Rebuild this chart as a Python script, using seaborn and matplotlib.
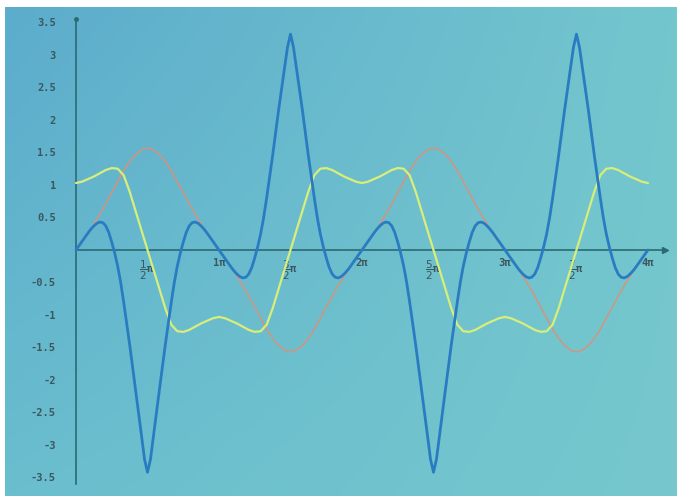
import numpy as np
import pandas as pd
import matplotlib
matplotlib.use("Agg")
import matplotlib.pyplot as plt
import seaborn as sns

# ---- data; x in units of pi ----
# blue curve, one period (0..2pi) sampled every pi/48
blue_period = [0, 0.065, 0.13, 0.195, 0.26, 0.32, 0.37, 0.41, 0.43, 0.42, 0.37, 0.27, 0.12, -0.05,
               -0.25, -0.50, -0.80, -1.12, -1.45, -1.80, -2.15, -2.50, -2.86, -3.22, -3.42,
               -3.22, -2.86, -2.50, -2.15, -1.80, -1.45, -1.12, -0.80, -0.50, -0.25, -0.05, 0.12,
               0.27, 0.37, 0.42, 0.43, 0.41, 0.37, 0.32, 0.26, 0.195, 0.13, 0.065, 0,
               -0.065, -0.13, -0.195, -0.26, -0.32, -0.37, -0.41, -0.43, -0.42, -0.37, -0.27, -0.12,
               0.05, 0.25, 0.50, 0.80, 1.12, 1.45, 1.80, 2.15, 2.48, 2.80, 3.12, 3.32,
               3.12, 2.80, 2.48, 2.15, 1.80, 1.45, 1.12, 0.80, 0.50, 0.25, 0.05, -0.12,
               -0.27, -0.37, -0.42, -0.43, -0.41, -0.37, -0.32, -0.26, -0.195, -0.13, -0.065, 0]
# yellow and orange curves, one period (0..2pi) sampled every pi/24
yellow_period = [1.03, 1.05, 1.09, 1.13, 1.18, 1.23, 1.26, 1.25, 1.15, 0.90, 0.60, 0.30, 0.0,
                 -0.30, -0.60, -0.90, -1.15, -1.25, -1.26, -1.23, -1.18, -1.13, -1.09, -1.05, -1.03,
                 -1.05, -1.09, -1.13, -1.18, -1.23, -1.26, -1.25, -1.15, -0.90, -0.60, -0.30, 0.0,
                 0.30, 0.60, 0.90, 1.15, 1.25, 1.26, 1.23, 1.18, 1.13, 1.09, 1.05, 1.03]
orange_period = [0, 0.12, 0.25, 0.40, 0.55, 0.71, 0.88, 1.05, 1.22, 1.36, 1.47, 1.54, 1.57,
                 1.54, 1.47, 1.36, 1.22, 1.05, 0.88, 0.71, 0.55, 0.40, 0.25, 0.12, 0,
                 -0.12, -0.25, -0.40, -0.55, -0.71, -0.88, -1.05, -1.22, -1.36, -1.47, -1.54, -1.57,
                 -1.54, -1.47, -1.36, -1.22, -1.05, -0.88, -0.71, -0.55, -0.40, -0.25, -0.12, 0]

# the picture shows the same period twice (0..2pi and 2pi..4pi)
blue = blue_period + blue_period[1:]
yellow = yellow_period + yellow_period[1:]
orange = orange_period + orange_period[1:]
x_blue = np.linspace(0, 4, len(blue))
x_other = np.linspace(0, 4, len(yellow))

y_ticks = [-3.5, -3, -2.5, -2, -1.5, -1, -0.5, 0, 0.5, 1, 1.5, 2, 2.5, 3, 3.5]
y_labels = ["-3.5", "-3", "-2.5", "-2", "-1.5", "-1", "-0.5", "", "0.5", "1", "1.5", "2", "2.5", "3", "3.5"]
x_ticks = [0, 0.25, 0.5, 0.75, 1, 1.25, 1.5, 1.75, 2, 2.25, 2.5, 2.75, 3, 3.25, 3.5, 3.75, 4]
x_labels = ["", "", r"$\dfrac{1}{2}$π", "", "1π", "", r"$\dfrac{3}{2}$π", "", "2π", "",
            r"$\dfrac{5}{2}$π", "", "3π", "", r"$\dfrac{7}{2}$π", "", "4π"]

df = pd.concat([
    pd.DataFrame({"x": x_other, "y": orange, "s": "orange"}),
    pd.DataFrame({"x": x_other, "y": yellow, "s": "yellow"}),
    pd.DataFrame({"x": x_blue, "y": blue, "s": "blue"}),
])

# ---- style ----
AXC = "#2c6a72"
TXT = "#3a585e"
palette = {"orange": "#dc9078", "yellow": "#d8ee7a", "blue": "#2a7cc2"}

sns.set_style("white")
plt.rcParams["font.family"] = ["DejaVu Sans Mono", "DejaVu Sans"]
plt.rcParams["mathtext.fontset"] = "dejavusans"

fig = plt.figure(figsize=(6.77, 4.96), dpi=100)
fig.patch.set_facecolor("white")
ax = fig.add_axes([5 / 677, 0, 672 / 677, 489 / 496])

# photographed screen background: slightly bluer towards the top-left
gx, gy = np.meshgrid(np.linspace(0, 1, 64), np.linspace(1, 0, 64))
tl = np.array([92, 172, 204]) / 255
tr = np.array([116, 198, 206]) / 255
bl = np.array([106, 190, 206]) / 255
br = np.array([118, 200, 205]) / 255
grad = ((1 - gx)[..., None] * gy[..., None] * tl + gx[..., None] * gy[..., None] * tr
        + (1 - gx)[..., None] * (1 - gy)[..., None] * bl + gx[..., None] * (1 - gy)[..., None] * br)
ax.imshow(grad, extent=[0, 1, 0, 1], transform=ax.transAxes, aspect="auto", zorder=0,
          interpolation="bilinear")

sns.lineplot(data=df, x="x", y="y", hue="s", palette=palette,
             hue_order=["orange", "yellow", "blue"], sort=False,
             legend=False, ax=ax, estimator=None)
for line, lw in zip(ax.lines, [1.0, 1.6, 2.0]):
    line.set_linewidth(lw)
    line.set_zorder(3)
    line.set_solid_joinstyle("round")

ax.set_xlim(-0.4965, 4.203)
ax.set_ylim(-3.785, 3.738)

X_END = 4.12
Y_TOP = 3.55
Y_BOT = -3.6
for side in ["top", "right"]:
    ax.spines[side].set_visible(False)
ax.spines["left"].set_position(("data", 0))
ax.spines["bottom"].set_position(("data", 0))
ax.spines["left"].set_bounds(Y_BOT, Y_TOP)
ax.spines["bottom"].set_bounds(0, X_END)
for side in ["left", "bottom"]:
    ax.spines[side].set_color(AXC)
    ax.spines[side].set_linewidth(1.2)
    ax.spines[side].set_zorder(2)
ax.plot([X_END], [0], marker=">", color=AXC, markersize=4, clip_on=False, zorder=2)
ax.plot([0], [Y_TOP], marker="o", color=AXC, markersize=2.5, clip_on=False, zorder=2)

ax.set_xticks(x_ticks)
ax.set_xticklabels(x_labels)
ax.set_yticks(y_ticks)
ax.set_yticklabels(y_labels)
ax.set_yticks(np.arange(-3.5, 3.51, 0.25), minor=True)
ax.tick_params(axis="both", which="both", direction="inout", color=AXC, width=1)
ax.tick_params(axis="y", which="major", length=5, pad=12, labelsize=7.5, labelcolor=TXT)
ax.tick_params(axis="y", which="minor", length=4)
ax.tick_params(axis="x", which="major", length=4, pad=4, labelsize=7.5, labelcolor=TXT)
for t in ax.get_xticklabels() + ax.get_yticklabels():
    t.set_fontweight("bold")
ax.set_xlabel("")
ax.set_ylabel("")

fig.savefig("out.png", dpi=100, facecolor=fig.get_facecolor())
